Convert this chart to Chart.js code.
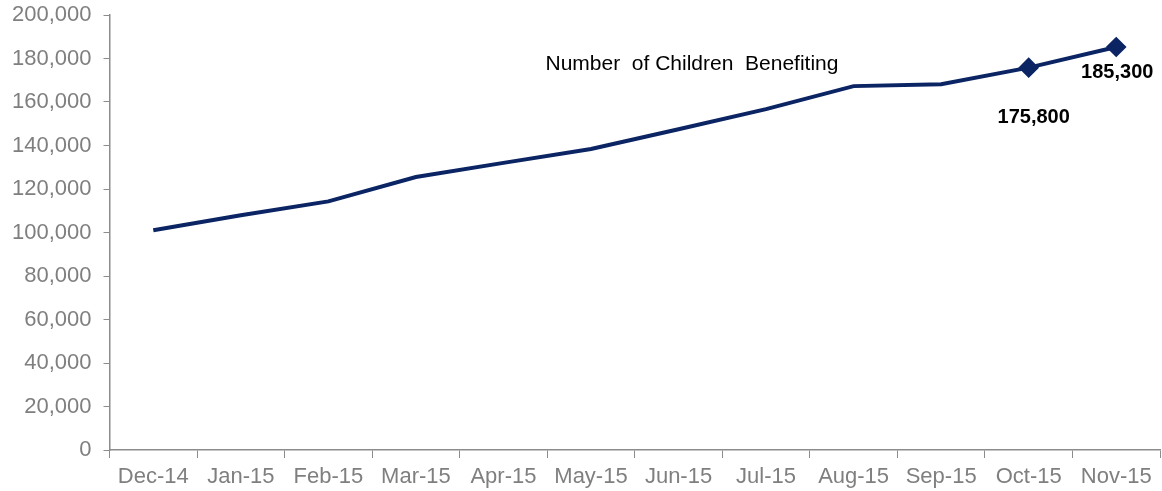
<!DOCTYPE html>
<html>
<head>
<meta charset="utf-8">
<script src="https://cdn.jsdelivr.net/npm/chart.js@4"></script>
<style>
  html, body { margin: 0; padding: 0; background: #fff; overflow: hidden; }
  #chart-wrapper { width: 1162px; height: 491px; }
  #childrenCanvas { display: block; }
</style>
</head>
<body>
<div id="chart-wrapper"><canvas id="childrenCanvas" width="1162" height="491"></canvas></div>
<script>
const months = ['Dec-14', 'Jan-15', 'Feb-15', 'Mar-15', 'Apr-15', 'May-15',
  'Jun-15', 'Jul-15', 'Aug-15', 'Sep-15', 'Oct-15', 'Nov-15'];
const children = [101000, 107900, 114300, 125500, 132000, 138400,
  147500, 156700, 167300, 168200, 175800, 185300];
const labelledPoints = { 10: '175,800', 11: '185,300' };
const seriesTitle = 'Number  of Children  Benefiting';

const navy = '#0b2463';
const axisGrey = '#8c8c8c';
const tickGrey = '#7f7f7f';
const fontFamily = '"Liberation Sans", Arial, sans-serif';

// draws the series title and the two value labels inside the plot
const annotationPlugin = {
  id: 'annotations',
  afterDatasetsDraw: (chart) => {
    const ctx = chart.ctx;
    const meta = chart.getDatasetMeta(0);
    const x = chart.scales.x;
    const y = chart.scales.y;
    ctx.save();
    ctx.fillStyle = '#000';
    ctx.font = '21px ' + fontFamily;
    ctx.textAlign = 'left';
    ctx.textBaseline = 'middle';
    ctx.fillText(seriesTitle, x.getPixelForValue(4.48), y.getPixelForValue(177500));

    ctx.font = 'bold 20px ' + fontFamily;
    ctx.textAlign = 'center';
    Object.keys(labelledPoints).forEach((i) => {
      const pt = meta.data[i];
      const dy = i == 10 ? 50 : 26;
      ctx.fillText(labelledPoints[i], pt.x + (i == 10 ? 5 : 1), pt.y + dy);
    });
    ctx.restore();
  }
};

const config = {
  type: 'line',
  data: {
    labels: months,
    datasets: [{
      label: 'Number of Children Benefiting',
      data: children,
      borderColor: navy,
      backgroundColor: navy,
      borderWidth: 4,
      tension: 0,
      pointStyle: 'rectRot',
      pointRadius: children.map((v, i) => (i in labelledPoints ? 7.5 : 0)),
      pointHoverRadius: 7.5
    }]
  },
  options: {
    responsive: false,
    animation: false,
    layout: { autoPadding: false, padding: { top: 15, right: 2, left: 0, bottom: 0 } },
    plugins: {
      legend: { display: false },
      tooltip: { enabled: false }
    },
    scales: {
      x: {
        offset: true,
        afterFit: (scale) => {
          scale.paddingLeft = 0;
          scale.paddingRight = 0;
          scale.height = 41;
        },
        grid: {
          offset: true,
          drawOnChartArea: false,
          drawTicks: true,
          tickLength: 8,
          color: axisGrey
        },
        border: { color: axisGrey, width: 1.5 },
        ticks: {
          color: tickGrey,
          font: { family: fontFamily, size: 22 },
          padding: 6,
          maxRotation: 0,
          autoSkip: false
        }
      },
      y: {
        min: 0,
        max: 200000,
        afterFit: (scale) => {
          scale.paddingTop = 0;
          scale.paddingBottom = 0;
        },
        grid: {
          drawOnChartArea: false,
          drawTicks: true,
          tickLength: 6,
          color: axisGrey
        },
        border: { color: axisGrey, width: 1.5 },
        ticks: {
          stepSize: 20000,
          color: tickGrey,
          font: { family: fontFamily, size: 22 },
          padding: 12,
          callback: (v) => v.toLocaleString('en-US')
        }
      }
    }
  },
  plugins: [annotationPlugin]
};

new Chart(document.getElementById('childrenCanvas'), config);
</script>
</body>
</html>
